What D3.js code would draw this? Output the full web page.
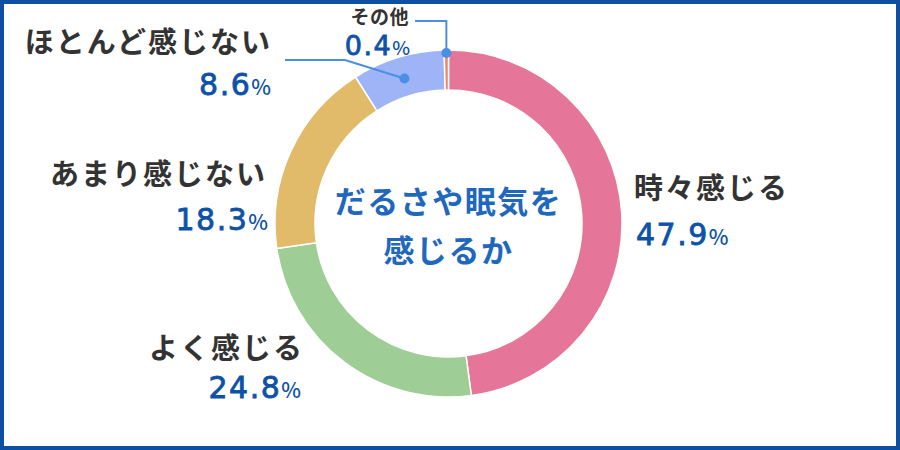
<!DOCTYPE html>
<html>
<head>
<meta charset="utf-8">
<script src="https://cdn.jsdelivr.net/npm/d3@7"></script>
<style>
  html, body { margin: 0; padding: 0; background: #fff; }
  svg { display: block; }
</style>
</head>
<body>
<svg id="chart" width="900" height="450"></svg>
<script>
// data
const categories = ["時々感じる", "よく感じる", "あまり感じない", "ほとんど感じない", "その他"];
const values = [47.9, 24.8, 18.3, 8.6, 0.4];
const colors = ["#e57699", "#9ecd95", "#e1bb69", "#9fb4f7", "#e8896a"];
const titleLines = ["だるさや眠気を", "感じるか"];

const width = 900, height = 450;
const cx = 448.5, cy = 223.5;
const outerR = 173.5, innerR = 133.5;

const svg = d3.select("#chart");

// frame
svg.append("rect")
  .attr("x", 2).attr("y", 2)
  .attr("width", width - 4).attr("height", height - 4)
  .attr("fill", "#fff")
  .attr("stroke", "#0d4fa3")
  .attr("stroke-width", 4);

const data = categories.map((name, i) => ({ name, value: values[i], color: colors[i] }));

const pie = d3.pie().sort(null).value(d => d.value);
const arc = d3.arc().innerRadius(innerR).outerRadius(outerR);
const arcs = pie(data);

const g = svg.append("g").attr("transform", `translate(${cx},${cy})`);

g.selectAll("path")
  .data(arcs)
  .join("path")
  .attr("d", arc)
  .attr("fill", d => d.data.color)
  .attr("stroke", "#fff")
  .attr("stroke-width", 1.5);

// centre title
g.append("text")
  .attr("text-anchor", "middle")
  .attr("font-family", "'Noto Sans CJK JP', sans-serif")
  .attr("font-weight", 700)
  .attr("font-size", 31)
  .attr("letter-spacing", 1.5)
  .attr("fill", "#1f68bd")
  .selectAll("tspan")
  .data(titleLines)
  .join("tspan")
  .attr("x", 0)
  .attr("y", (d, i) => -11 + i * 49)
  .text(d => d);

// label layout: anchor, name position, percent position (absolute)
const labelPos = [
  { anchor: "start", nx: 634, ny: 199, px: 636, py: 245, small: false },
  { anchor: "end",   nx: 304, ny: 359, px: 301, py: 398, small: false },
  { anchor: "end",   nx: 267, ny: 185, px: 268, py: 230, small: false },
  { anchor: "end",   nx: 272, ny: 53,  px: 271, py: 95,  small: false },
  { anchor: "end",   nx: 409, ny: 24,  px: 410, py: 55,  small: true }
];

const labels = svg.append("g");
arcs.forEach((a, i) => {
  const p = labelPos[i];
  labels.append("text")
    .attr("x", p.nx).attr("y", p.ny)
    .attr("text-anchor", p.anchor)
    .attr("font-family", "'Noto Sans CJK JP', sans-serif")
    .attr("font-weight", 700)
    .attr("font-size", p.small ? 19 : 29)
    .attr("letter-spacing", p.small ? 0.5 : 2)
    .attr("fill", "#333")
    .text(a.data.name);
  const t = labels.append("text")
    .attr("x", p.px).attr("y", p.py)
    .attr("text-anchor", p.anchor)
    .attr("fill", "#0d52a8");
  t.append("tspan")
    .attr("font-family", "'DejaVu Sans', sans-serif")
    .attr("font-weight", 400)
    .attr("font-size", p.small ? 27 : 30)
    .attr("letter-spacing", 1.5)
    .attr("stroke", "#0d52a8")
    .attr("stroke-width", 0.8)
    .text(d3.format(".1f")(a.data.value));
  t.append("tspan")
    .attr("font-family", "'Noto Sans CJK JP', sans-serif")
    .attr("font-weight", 500)
    .attr("font-size", p.small ? 19 : 21)
    .text("%");
});

// leader lines for the small slices
const lineColor = "#4a8fe3";
const small = arcs[4], thin = arcs[3];
const midAngle = d => (d.startAngle + d.endAngle) / 2;
const polar = (ang, r) => [cx + r * Math.sin(ang), cy - r * Math.cos(ang)];

const dotOther = polar(midAngle(small), outerR - 3);
const dotThin = polar(midAngle(thin), (innerR + outerR) / 2 - 2);

const leaders = [
  [[415, 21], [dotOther[0], 21], dotOther],
  [[285, 60], [345, 60], dotThin]
];

svg.append("g")
  .selectAll("path")
  .data(leaders)
  .join("path")
  .attr("d", d => d3.line()(d))
  .attr("fill", "none")
  .attr("stroke", lineColor)
  .attr("stroke-width", 2);

svg.append("g")
  .selectAll("circle")
  .data(leaders)
  .join("circle")
  .attr("cx", d => d[d.length - 1][0])
  .attr("cy", d => d[d.length - 1][1])
  .attr("r", 5)
  .attr("fill", lineColor);
</script>
</body>
</html>
